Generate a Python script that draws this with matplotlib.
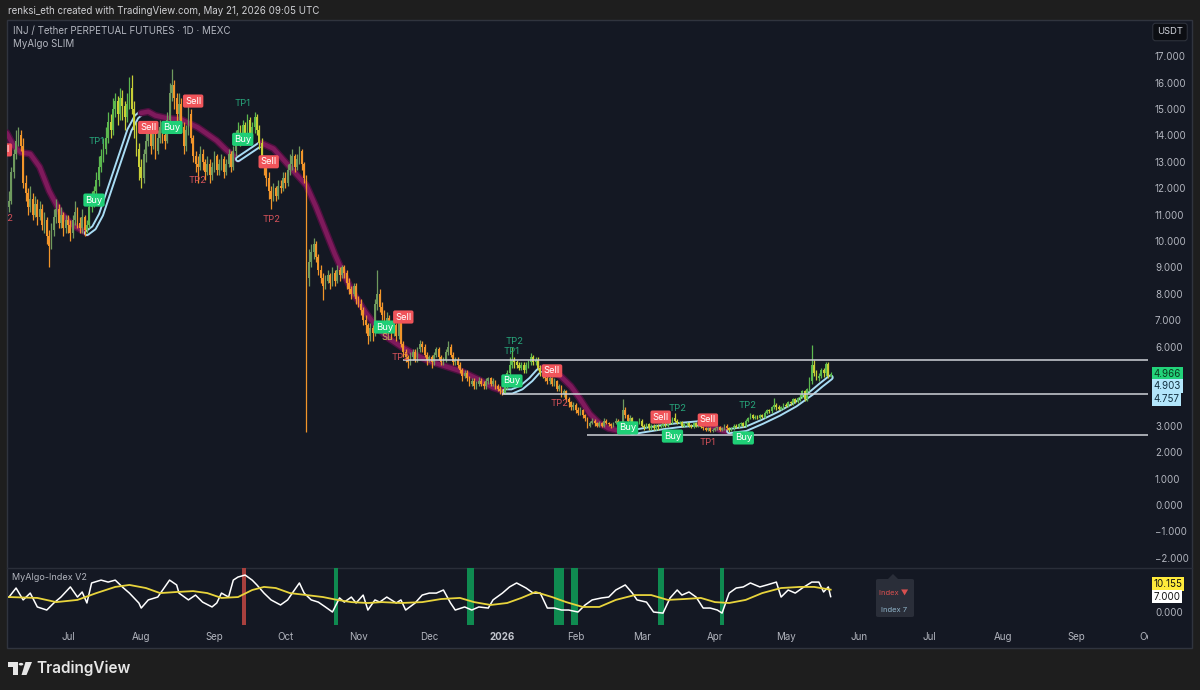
import matplotlib
matplotlib.use("Agg")
import matplotlib.pyplot as plt
import matplotlib.dates as mdates
from matplotlib.patches import Rectangle, Polygon, Circle, FancyBboxPatch
from matplotlib.lines import Line2D
import numpy as np
import pandas as pd

plt.rcParams['font.family'] = ['Inter', 'DejaVu Sans']

# ---- INJ / USDT daily candles, 2025-06-06 .. 2026-05-20 ----
first_day = "2025-06-06"
first_open = 11.3
close = [
    11.5, 12.6, 13.3, 13.8, 14.0,
    13.6, 12.2, 11.8, 11.3, 11.6,
    11.0, 11.4, 10.9, 11.2, 10.6,
    10.8, 10.2, 9.8, 10.4, 10.9,
    11.2, 10.7, 11.0, 10.5, 10.8,
    10.6, 10.3, 10.8, 11.1, 10.7,
    10.5, 10.9, 10.4, 10.6, 11.3,
    11.5, 11.9, 12.3, 12.8, 13.2,
    13.5, 13.9, 14.5, 14.2, 15.0,
    15.3, 14.8, 15.4, 15.1, 14.7,
    15.2, 15.8, 15.0, 14.2, 13.5,
    12.8, 12.4, 13.3, 13.8, 14.2,
    13.6, 14.1, 13.4, 13.9, 14.3,
    14.0, 13.8, 14.6, 15.6, 15.9,
    15.4, 14.8, 15.2, 14.3, 13.6,
    14.2, 14.8, 13.9, 13.2, 12.9,
    12.8, 13.3, 13.0, 12.6, 12.9,
    12.5, 12.8, 13.2, 12.7, 12.9,
    13.1, 12.6, 12.9, 13.3, 12.8,
    13.4, 13.9, 14.2, 13.8, 14.4,
    14.0, 14.6, 14.1, 14.3, 14.7,
    14.2, 13.7, 13.0, 12.8, 12.4,
    11.9, 11.6, 12.0, 11.7, 12.1,
    12.0, 12.4, 12.2, 12.7, 12.9,
    13.2, 12.8, 13.1, 13.4, 12.9,
    12.4, 8.6, 9.2, 9.6, 9.9,
    9.4, 8.9, 8.6, 8.3, 8.5,
    8.7, 8.4, 8.8, 8.5, 8.9,
    8.7, 9.0, 8.8, 8.4, 8.2,
    8.0, 8.3, 7.8, 7.6, 7.4,
    7.0, 6.8, 6.4, 6.7, 6.5,
    7.6, 8.0, 7.5, 7.2, 6.9,
    7.1, 6.8, 6.5, 6.8, 6.4,
    6.9, 6.1, 5.8, 5.6, 5.4,
    5.6, 5.8, 5.5, 5.9, 6.1,
    6.0, 5.7, 5.5, 5.6, 5.4,
    5.7, 5.9, 5.6, 5.4, 5.5,
    5.8, 6.0, 5.7, 5.4, 5.5,
    5.3, 5.1, 4.9, 5.0, 4.8,
    4.6, 4.7, 4.5, 4.6, 4.7,
    4.6, 4.5, 4.7, 4.8, 4.6,
    4.7, 4.5, 4.4, 4.3, 4.25,
    4.5, 5.0, 5.3, 5.5, 5.4,
    5.3, 5.2, 5.3, 5.1, 5.3,
    5.4, 5.6, 5.4, 5.5, 5.2,
    5.0, 4.9, 4.8, 4.7, 4.8,
    4.6, 4.7, 4.4, 4.5, 4.2,
    4.3, 4.0, 3.9, 3.7, 3.8,
    3.6, 3.5, 3.6, 3.4, 3.3,
    3.0, 3.1, 3.2, 3.1, 3.0,
    3.1, 3.0, 3.2, 3.1, 3.05,
    3.0, 3.1, 3.2, 3.0, 3.1,
    3.6, 3.4, 3.2, 3.3, 3.1,
    3.0, 3.1, 3.2, 3.0, 2.95,
    3.05, 2.9, 3.0, 2.9, 3.0,
    2.95, 3.0, 3.1, 3.0, 3.2,
    3.1, 3.3, 3.2, 3.1, 3.15,
    3.0, 3.05, 3.1, 3.0, 2.95,
    3.1, 3.0, 3.05, 2.95, 2.9,
    2.85, 2.9, 2.8, 2.85, 2.9,
    2.95, 2.85, 2.9, 3.0, 2.9,
    2.85, 2.9, 3.0, 2.95, 3.05,
    3.1, 3.0, 3.2, 3.3, 3.4,
    3.3, 3.35, 3.3, 3.4, 3.35,
    3.5, 3.6, 3.55, 3.7, 3.8,
    3.7, 3.65, 3.7, 3.8, 3.75,
    3.9, 3.85, 4.0, 3.9, 4.05,
    4.1, 4.3, 4.0, 4.4, 4.7,
    5.3, 5.0, 4.8, 4.9, 5.1,
    5.0, 5.35, 4.9, 4.966,
]
high = [
    11.9, 12.8, 13.5, 14.2, 14.3,
    14.2, 13.9, 12.5, 12.0, 12.1,
    11.8, 11.7, 11.6, 11.5, 11.4,
    11.1, 10.9, 10.4, 10.7, 11.2,
    11.6, 11.4, 11.3, 11.1, 11.0,
    11.0, 10.8, 11.0, 11.5, 11.3,
    10.9, 11.2, 11.0, 10.8, 11.6,
    11.9, 12.1, 12.6, 13.2, 13.5,
    13.9, 14.3, 14.9, 14.8, 15.4,
    15.6, 15.5, 15.8, 15.7, 15.3,
    15.6, 16.2, 16.3, 15.3, 14.5,
    13.7, 13.1, 13.5, 14.1, 14.5,
    14.4, 14.4, 14.3, 14.2, 14.6,
    14.5, 14.3, 14.9, 16.0, 16.5,
    16.1, 15.6, 15.6, 15.4, 14.5,
    14.4, 15.1, 15.0, 14.0, 13.4,
    13.2, 13.6, 13.5, 13.1, 13.2,
    13.1, 13.0, 13.4, 13.3, 13.1,
    13.3, 13.2, 13.1, 13.5, 13.4,
    13.6, 14.2, 14.5, 14.4, 14.6,
    14.5, 14.8, 14.7, 14.5, 14.9,
    14.8, 14.4, 13.9, 13.2, 13.0,
    12.6, 12.1, 12.2, 12.1, 12.3,
    12.3, 12.6, 12.6, 12.9, 13.3,
    13.5, 13.3, 13.3, 13.6, 13.5,
    13.0, 12.5, 9.7, 9.9, 10.1,
    10.0, 9.5, 9.1, 8.8, 8.7,
    8.9, 8.8, 9.0, 8.9, 9.1,
    9.0, 9.1, 9.1, 8.9, 8.6,
    8.3, 8.4, 8.4, 7.9, 7.8,
    7.5, 7.2, 6.9, 6.9, 6.8,
    7.8, 8.9, 8.2, 7.7, 7.4,
    7.3, 7.2, 6.9, 7.0, 6.9,
    7.1, 6.9, 6.2, 5.9, 5.7,
    5.8, 5.9, 5.9, 6.0, 6.25,
    6.2, 6.1, 5.8, 5.7, 5.7,
    5.8, 6.0, 6.0, 5.7, 5.6,
    5.9, 6.2, 6.1, 5.8, 5.6,
    5.6, 5.4, 5.2, 5.1, 5.1,
    4.9, 4.8, 4.8, 4.7, 4.85,
    4.8, 4.7, 4.8, 4.85, 4.85,
    4.8, 4.75, 4.6, 4.5, 4.4,
    4.6, 5.1, 5.6, 6.0, 5.6,
    5.5, 5.4, 5.4, 5.4, 5.4,
    5.5, 5.76, 5.7, 5.6, 5.6,
    5.3, 5.1, 5.0, 4.9, 4.9,
    4.85, 4.8, 4.75, 4.6, 4.55,
    4.4, 4.35, 4.1, 3.95, 3.9,
    3.85, 3.7, 3.7, 3.65, 3.45,
    3.35, 3.2, 3.3, 3.25, 3.15,
    3.2, 3.15, 3.3, 3.25, 3.15,
    3.1, 3.15, 3.3, 3.25, 3.15,
    4.0, 3.7, 3.45, 3.4, 3.35,
    3.15, 3.2, 3.3, 3.25, 3.05,
    3.1, 3.1, 3.05, 3.05, 3.05,
    3.05, 3.05, 3.15, 3.15, 3.25,
    3.25, 3.35, 3.5, 3.25, 3.2,
    3.2, 3.1, 3.15, 3.15, 3.05,
    3.15, 3.15, 3.1, 3.1, 3.0,
    2.95, 2.95, 2.95, 2.9, 2.95,
    3.0, 3.0, 2.95, 3.05, 3.05,
    2.95, 2.95, 3.05, 3.05, 3.1,
    3.15, 3.15, 3.25, 3.35, 3.5,
    3.45, 3.4, 3.4, 3.45, 3.45,
    3.55, 3.65, 3.65, 3.75, 4.05,
    3.85, 3.8, 3.75, 3.85, 3.85,
    3.95, 3.95, 4.05, 4.05, 4.1,
    4.2, 4.35, 4.35, 4.45, 4.85,
    6.06, 5.5, 5.1, 5.0, 5.2,
    5.2, 5.4, 5.4, 5.05,
]
low = [
    11.1, 11.4, 12.4, 13.1, 13.6,
    13.4, 12.0, 11.5, 11.0, 11.1,
    10.8, 10.9, 10.6, 10.8, 10.4,
    10.3, 9.9, 9.0, 9.7, 10.2,
    10.7, 10.5, 10.5, 10.2, 10.3,
    10.3, 10.0, 10.1, 10.6, 10.5,
    10.3, 10.3, 10.2, 10.3, 10.5,
    11.1, 11.3, 11.7, 12.1, 12.6,
    13.0, 13.3, 13.7, 13.9, 14.0,
    14.7, 14.4, 14.6, 14.6, 14.2,
    14.5, 15.0, 14.8, 13.9, 13.2,
    12.3, 12.0, 12.2, 13.0, 13.6,
    13.3, 13.5, 13.1, 13.3, 13.7,
    13.7, 13.5, 13.7, 14.5, 15.3,
    15.0, 14.5, 14.6, 14.1, 13.3,
    13.4, 14.0, 13.7, 13.0, 12.6,
    12.2, 12.7, 12.7, 12.3, 12.5,
    12.2, 12.3, 12.6, 12.5, 12.5,
    12.7, 12.4, 12.5, 12.8, 12.6,
    12.7, 13.2, 13.7, 13.6, 13.7,
    13.8, 13.9, 13.9, 13.9, 14.1,
    14.0, 13.5, 12.8, 12.5, 12.1,
    11.6, 11.2, 11.5, 11.5, 11.6,
    11.8, 11.9, 12.0, 12.1, 12.5,
    12.7, 12.6, 12.7, 12.9, 12.7,
    12.2, 2.75, 8.3, 9.0, 9.3,
    9.2, 8.7, 8.4, 7.76, 8.2,
    8.4, 8.2, 8.3, 8.3, 8.4,
    8.5, 8.6, 8.6, 8.2, 8.0,
    7.8, 7.9, 7.6, 7.5, 7.2,
    6.8, 6.5, 6.1, 6.2, 6.2,
    6.4, 7.4, 7.3, 7.0, 6.7,
    6.8, 6.6, 6.3, 6.4, 6.2,
    6.3, 6.0, 5.6, 5.4, 5.2,
    5.3, 5.5, 5.4, 5.4, 5.8,
    5.8, 5.6, 5.3, 5.4, 5.2,
    5.3, 5.6, 5.5, 5.3, 5.3,
    5.4, 5.7, 5.6, 5.3, 5.3,
    5.2, 5.0, 4.7, 4.8, 4.7,
    4.5, 4.5, 4.4, 4.4, 4.5,
    4.5, 4.4, 4.4, 4.6, 4.5,
    4.5, 4.4, 4.3, 4.2, 4.17,
    4.2, 4.4, 4.9, 5.2, 5.2,
    5.2, 5.1, 5.1, 5.0, 5.0,
    5.2, 5.3, 5.3, 5.3, 5.1,
    4.9, 4.8, 4.7, 4.6, 4.6,
    4.5, 4.5, 4.3, 4.3, 4.1,
    4.1, 3.9, 3.7, 3.6, 3.6,
    3.5, 3.4, 3.4, 3.3, 3.2,
    2.9, 2.95, 3.05, 3.0, 2.95,
    2.95, 2.95, 2.95, 3.05, 3.0,
    2.9, 2.95, 3.05, 2.95, 2.95,
    3.05, 3.3, 3.1, 3.15, 3.0,
    2.9, 2.95, 3.05, 2.95, 2.85,
    2.9, 2.85, 2.85, 2.85, 2.85,
    2.85, 2.9, 2.95, 2.95, 2.95,
    3.05, 3.05, 3.15, 3.05, 3.05,
    2.95, 2.95, 3.0, 2.95, 2.9,
    2.9, 2.95, 2.95, 2.9, 2.85,
    2.8, 2.8, 2.75, 2.75, 2.8,
    2.85, 2.8, 2.8, 2.85, 2.85,
    2.75, 2.8, 2.85, 2.9, 2.9,
    3.0, 2.95, 2.95, 3.15, 3.25,
    3.25, 3.25, 3.25, 3.25, 3.3,
    3.3, 3.45, 3.5, 3.5, 3.65,
    3.6, 3.6, 3.6, 3.65, 3.7,
    3.7, 3.8, 3.8, 3.85, 3.85,
    3.95, 4.05, 3.95, 3.95, 4.3,
    4.6, 4.9, 4.75, 4.7, 4.8,
    4.85, 4.9, 4.8, 4.85,
]

# ---- MyAlgo SLIM trend band (kind, dates, values) ----
bands = [
    ("sell", ["2025-06-05", "2025-06-08", "2025-06-11", "2025-06-15", "2025-06-19", "2025-06-23",
              "2025-06-28", "2025-07-03", "2025-07-09"],
     [14.1, 13.6, 13.35, 13.3, 12.8, 11.9, 11.05, 10.6, 10.3]),
    ("buy", ["2025-07-09", "2025-07-12", "2025-07-15", "2025-07-18", "2025-07-21", "2025-07-24",
             "2025-07-27", "2025-07-30", "2025-08-01"],
     [10.3, 10.5, 11.0, 11.8, 12.6, 13.4, 14.2, 14.7, 14.85]),
    ("sell", ["2025-08-01", "2025-08-04", "2025-08-07", "2025-08-12", "2025-08-18", "2025-08-25",
              "2025-09-02", "2025-09-06", "2025-09-11"],
     [14.85, 14.9, 14.75, 14.65, 14.6, 14.3, 13.8, 13.45, 13.1]),
    ("buy", ["2025-09-11", "2025-09-16", "2025-09-21"], [13.1, 13.4, 13.7]),
    ("sell", ["2025-09-21", "2025-09-26", "2025-10-01", "2025-10-06", "2025-10-10", "2025-10-14",
              "2025-10-18", "2025-10-22", "2025-10-26", "2025-10-30", "2025-11-04", "2025-11-09",
              "2025-11-14", "2025-11-19", "2025-11-25", "2025-12-01", "2025-12-08", "2025-12-15",
              "2025-12-22", "2025-12-28", "2026-01-02"],
     [13.7, 13.5, 13.0, 12.5, 12.1, 11.3, 10.4, 9.5, 8.7, 8.0, 7.3, 6.7, 6.3, 6.0, 5.7, 5.45,
      5.25, 5.05, 4.75, 4.45, 4.3]),
    ("buy", ["2026-01-02", "2026-01-05", "2026-01-09", "2026-01-13", "2026-01-16", "2026-01-18"],
     [4.3, 4.3, 4.45, 4.75, 5.05, 5.2]),
    ("sell", ["2026-01-18", "2026-01-22", "2026-01-26", "2026-01-30", "2026-02-03", "2026-02-07",
              "2026-02-11", "2026-02-15", "2026-02-20", "2026-02-25"],
     [5.2, 5.1, 4.85, 4.5, 4.0, 3.45, 3.1, 2.9, 2.8, 2.76]),
    ("buy", ["2026-02-25", "2026-03-03", "2026-03-10", "2026-03-17", "2026-03-26"],
     [2.76, 2.85, 2.95, 3.03, 3.1]),
    ("sell", ["2026-03-26", "2026-03-30", "2026-04-03", "2026-04-07"], [3.1, 3.0, 2.85, 2.77]),
    ("buy", ["2026-04-07", "2026-04-14", "2026-04-21", "2026-04-28", "2026-05-05", "2026-05-12",
             "2026-05-16", "2026-05-20"],
     [2.8, 2.88, 3.15, 3.45, 3.8, 4.25, 4.55, 4.83]),
]

# ---- signal tags on the price pane ----
tag_date = ["2025-06-03", "2025-06-04", "2025-07-12", "2025-07-13", "2025-08-04", "2025-08-14",
            "2025-08-23", "2025-08-25", "2025-09-13", "2025-09-13", "2025-09-24", "2025-09-25",
            "2025-11-12", "2025-11-13", "2025-11-20", "2025-11-19", "2026-01-06", "2026-01-05",
            "2026-01-05", "2026-01-22", "2026-01-25", "2026-02-23", "2026-03-09", "2026-03-16",
            "2026-03-14", "2026-03-29", "2026-03-29", "2026-04-13", "2026-04-15"]
tag_price = [13.45, 10.87, 11.55, 13.75, 14.3, 14.3, 15.3, 12.3, 15.2, 13.85, 13.0, 10.8,
             6.74, 6.36, 7.12, 5.57, 6.2, 5.8, 4.7, 5.08, 3.86, 2.92, 3.33, 3.67,
             2.61, 3.22, 2.35, 2.54, 3.75]
tag_text = ["Sell", "TP2", "Buy", "TP1", "Sell", "Buy", "Sell", "TP2", "TP1", "Buy", "Sell", "TP2",
            "Buy", "SL", "Sell", "TP2", "TP2", "TP1", "Buy", "Sell", "TP2", "Buy", "Sell", "TP2",
            "Buy", "Sell", "TP1", "Buy", "TP2"]
tag_kind = ["sell", "tp_dn", "buy", "tp_up", "sell", "buy", "sell", "tp_dn", "tp_up", "buy", "sell", "tp_dn",
            "buy", "sl", "sell", "tp_dn", "tp_up", "tp_up", "buy", "sell", "tp_dn", "buy", "sell", "tp_up",
            "buy", "sell", "tp_dn", "buy", "tp_up"]

# horizontal levels
level_price = [5.49, 4.20, 2.65]
level_from = ["2025-11-20", "2026-01-01", "2026-02-06"]

# ---- MyAlgo-Index V2 (days after 2025-07-01) ----
osc_day = [-25, -22, -19, -16, -13, -9, -6, -3, -1, 1, 4, 6, 8, 10, 14, 17, 20, 23, 26, 30, 31, 34,
           38, 41, 43, 46, 47, 51, 54, 57, 61, 63, 65, 68, 70, 72, 75, 78, 80, 83, 86, 90, 93, 95,
           98, 100, 103, 106, 109, 112, 115, 117, 120, 122, 125, 127, 130, 132, 135, 139, 141, 143,
           147, 150, 153, 156, 159, 162, 164, 168, 171, 174, 178, 180, 184, 187, 190, 194, 197, 200,
           203, 206, 209, 212, 216, 219, 222, 226, 229, 232, 236, 239, 241, 245, 248, 252, 255, 258,
           260, 263, 266, 269, 272, 275, 277, 280, 283, 286, 289, 293, 296, 300, 302, 305, 308, 311,
           315, 318, 320, 322, 323]
osc_val = [6.8, 10.9, 5.5, 8.6, 2.3, 0.9, 4.1, 6.8, 9.1, 11.4, 6.8, 9.1, 4.1, 13.2, 14.5, 13.6, 14.5,
           11.4, 8.6, 4.1, 1.8, 5.5, 6.8, 11.4, 14.5, 12.3, 8.6, 5.5, 7.7, 4.5, 2.3, 4.1, 8.6, 6.8,
           14.5, 15.9, 16.8, 14.5, 12.3, 8.6, 5.5, 3.2, 5.5, 8.6, 13.2, 8.6, 5.5, 4.5, 2.3, 0.0, 6.4,
           4.5, 6.8, 4.1, 7.7, 0.9, 5.5, 4.5, 6.8, 4.1, 5.5, 0.9, 4.1, 7.7, 8.6, 8.6, 10.0, 4.1, 0.9,
           2.3, 0.9, 2.3, 1.8, 5.5, 8.6, 11.4, 13.2, 10.9, 8.6, 8.6, 1.8, 1.8, 0.9, 0.9, 0.0, 3.2,
           5.5, 6.4, 6.8, 10.0, 12.3, 8.6, 5.5, 4.5, 0.0, -0.5, 6.4, 10.0, 7.7, 9.1, 6.8, 1.8, 1.8,
           0.9, -0.5, 8.6, 10.9, 11.4, 13.2, 11.4, 12.3, 13.6, 6.8, 10.0, 8.6, 10.9, 13.6, 13.6, 9.1,
           11.4, 7.0]
sig_day = [-25, -13, -5, 4, 12, 20, 26, 33, 39, 46, 53, 59, 65, 72, 78, 83, 88, 94, 101, 108, 114,
           120, 127, 133, 141, 150, 158, 166, 172, 179, 186, 192, 198, 205, 211, 218, 225, 232, 240,
           247, 254, 261, 268, 274, 280, 287, 294, 302, 310, 316, 323]
sig_val = [6.8, 6.4, 4.5, 5.5, 8.6, 11.4, 12.3, 10.9, 8.6, 9.1, 9.5, 8.6, 6.4, 6.8, 10.0, 11.4, 10.9,
           8.6, 7.7, 6.8, 5.5, 4.5, 4.1, 4.5, 4.1, 4.5, 5.9, 6.4, 4.5, 3.2, 4.1, 6.4, 9.1, 6.8, 4.5,
           2.3, 2.3, 5.5, 7.7, 7.7, 5.5, 5.9, 6.4, 4.5, 4.1, 5.5, 8.6, 10.9, 11.4, 11.4, 10.155]
zone_start = [73.7, 112.7, 169.0, 205.8, 213.0, 250.0, 276.0]
zone_days = [1.7, 1.5, 3.0, 4.2, 3.0, 2.5, 1.7]
zone_kind = ["sell", "buy", "buy", "buy", "buy", "buy", "buy"]

months = ["2025-07-01", "2025-08-01", "2025-09-01", "2025-10-01", "2025-11-01", "2025-12-01",
          "2026-01-01", "2026-02-01", "2026-03-01", "2026-04-01", "2026-05-01", "2026-06-01",
          "2026-07-01", "2026-08-01", "2026-09-01", "2026-10-01"]
month_lbl = ["Jul", "Aug", "Sep", "Oct", "Nov", "Dec", "2026", "Feb", "Mar", "Apr", "May", "Jun",
             "Jul", "Aug", "Sep", "Oct"]
price_ticks = [-2, -1, 0, 1, 2, 3, 6, 7, 8, 9, 10, 11, 12, 13, 14, 15, 16, 17]

# ---------------------------------------------------------------
W, H = 1200, 690
BG = '#141823'
TXT = '#b2b5be'
fig = plt.figure(figsize=(W / 100, H / 100), dpi=100)
fig.patch.set_facecolor('#1e1e1e')


def box(x0, y0, x1, y1):
    return [x0 / W, 1 - y1 / H, (x1 - x0) / W, (y1 - y0) / H]


def P(x, y):
    return (x / W, 1 - y / H)


fig.patches.append(Rectangle(P(7, 648), 1185 / W, 628 / H, transform=fig.transFigure,
                             fc=BG, ec='#30343e', lw=1, zorder=-5))
fig.add_artist(Line2D([7 / W, 1192 / W], [1 - 568 / H] * 2, color='#2a2e39', lw=1, zorder=-4))

base = pd.Timestamp("2025-07-01")
xl = (mdates.date2num(base) - 25.84, mdates.date2num(base) + 457.4)

ax = fig.add_axes(box(7, 20, 1148, 568))
ax2 = fig.add_axes(box(7, 568, 1148, 625))
axt = fig.add_axes(box(7, 625, 1148, 648))
for a in (ax, ax2, axt):
    a.set_facecolor('none')
    a.set_xlim(*xl)
    for s in a.spines.values():
        s.set_visible(False)
axt.set_ylim(0, 1)
axt.axis('off')

# ---- price pane ----
ax.set_ylim(-2.386, 18.37)
ax.yaxis.tick_right()
ax.set_yticks(price_ticks)
ax.set_yticklabels([f"{v:.3f}".replace('-', '\u2212') for v in price_ticks])
ax.tick_params(axis='y', length=0, pad=5, labelsize=7, colors=TXT)
ax.tick_params(axis='x', bottom=False, labelbottom=False)

dates = pd.date_range(first_day, periods=len(close), freq="D")
x = mdates.date2num(dates)
c = np.array(close)
o = np.array([first_open] + close[:-1])
hi = np.maximum(np.array(high), np.maximum(o, c))
lo = np.minimum(np.array(low), np.minimum(o, c))

regime = np.array(['sell'] * len(x), dtype=object)
for kind, d, v in bands:
    if kind == 'buy':
        a0 = mdates.date2num(pd.Timestamp(d[0]))
        a1 = mdates.date2num(pd.Timestamp(d[-1]))
        regime[(x >= a0) & (x <= a1)] = 'buy'

pal = {('buy', True): '#5cb84f', ('buy', False): '#c8cf36',
       ('sell', True): '#6f9a5e', ('sell', False): '#f2952a'}
cols = [pal[(r, cc >= oo)] for r, cc, oo in zip(regime, c, o)]

for kind, d, v in bands:
    bx = mdates.date2num(pd.to_datetime(d))
    if kind == 'sell':
        ax.plot(bx, v, color='#4e1040', lw=5.2, solid_capstyle='round', zorder=2)
        ax.plot(bx, v, color='#7f1a5c', lw=3.2, solid_capstyle='round', zorder=2)
    else:
        ax.plot(bx, v, color='#a8dcf4', lw=4.4, solid_capstyle='round', zorder=2)
        ax.plot(bx, v, color=BG, lw=1.6, solid_capstyle='round', zorder=2)

ax.vlines(x, lo, hi, colors=cols, lw=0.9, zorder=3)
ax.bar(x, np.maximum(np.abs(c - o), 0.03), bottom=np.minimum(o, c), width=0.74,
       color=cols, linewidth=0, zorder=3)

for lp, lf in zip(level_price, level_from):
    ax.hlines(lp, mdates.date2num(pd.Timestamp(lf)), xl[1], color='#cfd2d8', lw=1.1, zorder=4)

tag_style = {
    'buy': dict(color='white', bbox=dict(boxstyle='round,pad=0.22,rounding_size=0.2', fc='#1fcf76', ec='none')),
    'sell': dict(color='white', bbox=dict(boxstyle='round,pad=0.22,rounding_size=0.2', fc='#f0545a', ec='none')),
    'tp_up': dict(color='#27a47a'),
    'tp_dn': dict(color='#d4525a'),
    'sl': dict(color='#c7b25a'),
}
for td, tp, tt, tk in zip(tag_date, tag_price, tag_text, tag_kind):
    ax.text(mdates.date2num(pd.Timestamp(td)), tp, tt, ha='center', va='center', fontsize=6.8,
            zorder=6, clip_on=True, **tag_style[tk])

# last value labels on the price scale
yt = ax.get_yaxis_transform()
lab = dict(xycoords=yt, textcoords='offset points', ha='left', va='center', fontsize=7,
           annotation_clip=False, zorder=10)
ax.annotate("4.966", xy=(1, close[-1]), xytext=(4, 0), color='#0b3b1f',
            bbox=dict(boxstyle='square,pad=0.18', fc='#22d37a', ec='none'), **lab)
ax.annotate("4.903", xy=(1, 4.903), xytext=(4, -7.6), color='#123040',
            bbox=dict(boxstyle='square,pad=0.18', fc='#b3e6fb', ec='none'), **lab)
ax.annotate("4.757", xy=(1, 4.757), xytext=(4, -14.2), color='#123040',
            bbox=dict(boxstyle='square,pad=0.18', fc='#b3e6fb', ec='none'), **lab)

# ---- indicator pane ----
ax2.set_ylim(-5.9, 20.0)
for zs, zd, zk in zip(zone_start, zone_days, zone_kind):
    z0 = mdates.date2num(base) + zs
    ax2.axvspan(z0, z0 + zd, color='#a8403e' if zk == 'sell' else '#0f8a50', lw=0, zorder=1)
ox = mdates.date2num(base) + np.array(osc_day)
ax2.plot(ox, osc_val, color='white', lw=1.1, zorder=3)
sx = mdates.date2num(base) + np.array(sig_day)
ax2.plot(sx, sig_val, color='#e8d43c', lw=1.3, zorder=4)
ax2.yaxis.tick_right()
ax2.set_yticks([0])
ax2.set_yticklabels(["0.000"])
ax2.tick_params(axis='y', length=0, pad=5, labelsize=7, colors=TXT)
ax2.tick_params(axis='x', bottom=False, labelbottom=False)
yt2 = ax2.get_yaxis_transform()
lab2 = dict(xycoords=yt2, textcoords='offset points', ha='left', va='center', fontsize=7,
            annotation_clip=False, zorder=10, color='#111111')
ax2.annotate("10.155", xy=(1, sig_val[-1]), xytext=(4, 4),
             bbox=dict(boxstyle='square,pad=0.18', fc='#ffeb3b', ec='none'), **lab2)
ax2.annotate("7.000", xy=(1, osc_val[-1]), xytext=(4, 0),
             bbox=dict(boxstyle='square,pad=0.18', fc='white', ec='none'), **lab2)

# ---- time axis ----
for m, ml in zip(months, month_lbl):
    axt.text(mdates.date2num(pd.Timestamp(m)), 0.5, ml, ha='center', va='center', fontsize=7,
             color='#c3c6ce' if ml == '2026' else TXT, fontweight='bold' if ml == '2026' else 'normal',
             clip_on=True)

# ---- texts and chrome ----
fig.text(*P(8, 11), "renksi_eth created with TradingView.com, May 21, 2026 09:05 UTC",
         fontsize=7, color='#cfd0d4', va='center')
fig.text(*P(13, 31), "INJ / Tether PERPETUAL FUTURES \u00b7 1D \u00b7 MEXC", fontsize=7, color=TXT, va='center')
fig.text(*P(13, 44), "MyAlgo SLIM", fontsize=7, color=TXT, va='center')
fig.text(*P(12, 578), "MyAlgo-Index V2", fontsize=6.5, color=TXT, va='center')
fig.text(*P(1170, 32), "USDT", fontsize=6.8, color='#d1d4dc', ha='center', va='center',
         bbox=dict(boxstyle='round,pad=0.45,rounding_size=0.3', fc='#0c0e13', ec='#2e323c', lw=0.8))

# tooltip box in the indicator pane
fig.patches.append(FancyBboxPatch(P(876, 617), 38 / W, 38 / H, transform=fig.transFigure,
                                  boxstyle='round,pad=0,rounding_size=0.002', fc='#2a2e39', ec='none', zorder=5))
fig.patches.append(Polygon([P(888, 579), P(898, 579), P(893, 574)], closed=True,
                           transform=fig.transFigure, fc='#2a2e39', ec='none', zorder=5))
fig.text(*P(894, 593), "Index \u25bc", fontsize=5.5, color='#d8504f', ha='center', va='center', zorder=6)
fig.text(*P(894, 610), "Index 7", fontsize=5.5, color='#8fb3c8', ha='center', va='center', zorder=6)

# TradingView logo
lc = '#e6e6e6'
fig.patches.append(Polygon([P(8, 662), P(17.5, 662), P(17.5, 675), P(13, 675), P(13, 666.5), P(8, 666.5)],
                           closed=True, transform=fig.transFigure, fc=lc, ec='none'))
fig.patches.append(Circle(P(21, 664.2), 2.3 / W, transform=fig.transFigure, fc=lc, ec='none'))
fig.patches.append(Polygon([P(25.5, 662), P(32, 662), P(26.5, 675), P(21.5, 675)],
                           closed=True, transform=fig.transFigure, fc=lc, ec='none'))
fig.text(*P(36, 668.5), "TradingView", fontsize=11, color=lc, fontweight='semibold', va='center')

fig.savefig("out.png", dpi=100, facecolor=fig.get_facecolor())
